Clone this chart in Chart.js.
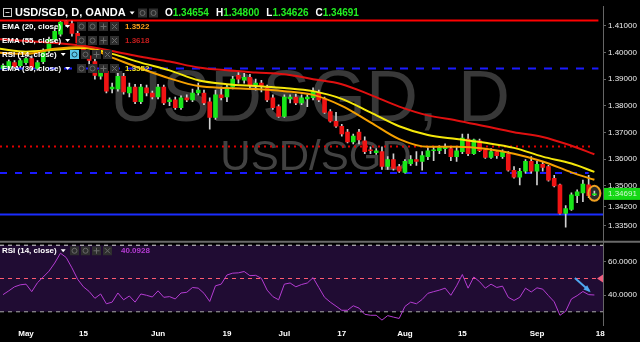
<!DOCTYPE html>
<html>
<head>
<meta charset="utf-8">
<script src="https://cdn.jsdelivr.net/npm/chart.js@4.4.1/dist/chart.umd.min.js"></script>
<style>
  html, body { margin: 0; padding: 0; background: #000; }
  #wrap { width: 640px; height: 342px; }
</style>
</head>
<body>
<div id="wrap"><canvas id="chart" width="640" height="342"></canvas></div>
<script>
// one candle per trading day, index 0 = 1 May 2017, first candle is index -4
const firstIdx = -4;

const opens = [1.3940,1.3944,1.3962,1.3951,
  1.3962,1.3977,1.3940,1.3966,1.4006,1.4047,1.4069,1.4120,1.4109,1.4072,
  1.4036,1.3988,1.3966,1.3911,1.3929,1.3863,1.3863,1.3911,1.3848,1.3870,
  1.3815,1.3867,1.3848,1.3833,1.3870,1.3815,1.3822,1.3793,1.3830,1.3822,
  1.3848,1.3848,1.3815,1.3756,1.3841,1.3833,1.3870,1.3914,1.3896,1.3907,
  1.3878,1.3885,1.3867,1.3830,1.3797,1.3760,1.3826,1.3833,1.3811,1.3826,
  1.3830,1.3848,1.3826,1.3778,1.3742,1.3723,1.3701,1.3664,1.3701,1.3668,
  1.3635,1.3624,1.3628,1.3572,1.3598,1.3572,1.3550,1.3583,1.3598,1.3591,
  1.3609,1.3631,1.3631,1.3639,1.3639,1.3609,1.3628,1.3675,1.3620,1.3668,
  1.3635,1.3606,1.3628,1.3609,1.3620,1.3558,1.3532,1.3554,1.3591,1.3554,
  1.3580,1.3572,1.3528,1.3503,1.3396,1.3411,1.3462,1.3473,1.3503,1.34654];

const highs = [1.3958,1.3973,1.3970,1.3977,
  1.3984,1.3988,1.3970,1.4014,1.4058,1.4091,1.4116,1.4120,1.4118,1.4083,
  1.4047,1.3999,1.3981,1.3944,1.3940,1.3885,1.3925,1.3922,1.3885,1.3881,
  1.3881,1.3878,1.3855,1.3881,1.3878,1.3830,1.3833,1.3837,1.3841,1.3863,
  1.3885,1.3859,1.3830,1.3859,1.3870,1.3881,1.3911,1.3925,1.3922,1.3918,
  1.3900,1.3896,1.3878,1.3841,1.3804,1.3841,1.3841,1.3844,1.3841,1.3841,
  1.3867,1.3859,1.3833,1.3786,1.3775,1.3730,1.3712,1.3694,1.3712,1.3683,
  1.3646,1.3639,1.3646,1.3609,1.3620,1.3580,1.3598,1.3613,1.3628,1.3628,
  1.3642,1.3646,1.3650,1.3657,1.3646,1.3646,1.3694,1.3694,1.3675,1.3675,
  1.3639,1.3639,1.3631,1.3635,1.3628,1.3572,1.3565,1.3598,1.3609,1.3591,
  1.3591,1.3576,1.3539,1.3506,1.3425,1.3473,1.3484,1.3521,1.3539,1.34800];

const lows = [1.3933,1.3936,1.3940,1.3944,
  1.3955,1.3936,1.3933,1.3958,1.3999,1.4039,1.4061,1.4098,1.4061,1.4028,
  1.3999,1.3958,1.3900,1.3900,1.3848,1.3848,1.3855,1.3844,1.3833,1.3808,
  1.3808,1.3837,1.3826,1.3826,1.3804,1.3800,1.3786,1.3786,1.3815,1.3815,
  1.3841,1.3804,1.3712,1.3749,1.3822,1.3815,1.3863,1.3885,1.3885,1.3863,
  1.3859,1.3852,1.3815,1.3786,1.3756,1.3756,1.3811,1.3804,1.3804,1.3797,
  1.3822,1.3815,1.3771,1.3738,1.3719,1.3686,1.3661,1.3657,1.3657,1.3620,
  1.3620,1.3617,1.3561,1.3561,1.3558,1.3550,1.3547,1.3576,1.3576,1.3558,
  1.3598,1.3594,1.3620,1.3620,1.3594,1.3591,1.3620,1.3613,1.3617,1.3628,
  1.3602,1.3602,1.3602,1.3602,1.3554,1.3528,1.3503,1.3547,1.3547,1.3503,
  1.3554,1.3517,1.3495,1.3393,1.3344,1.3407,1.3436,1.3440,1.3455,1.34626];

const closes = [1.3951,1.3966,1.3947,1.3970,
  1.3977,1.3944,1.3962,1.4006,1.4050,1.4080,1.4113,1.4106,1.4072,1.4036,
  1.4010,1.3970,1.3914,1.3933,1.3855,1.3870,1.3911,1.3852,1.3870,1.3815,
  1.3870,1.3848,1.3833,1.3870,1.3811,1.3822,1.3793,1.3830,1.3822,1.3848,
  1.3859,1.3811,1.3756,1.3841,1.3830,1.3870,1.3900,1.3900,1.3907,1.3878,
  1.3885,1.3874,1.3822,1.3793,1.3760,1.3833,1.3833,1.3811,1.3830,1.3833,
  1.3852,1.3822,1.3775,1.3742,1.3723,1.3694,1.3664,1.3686,1.3672,1.3628,
  1.3631,1.3631,1.3572,1.3598,1.3565,1.3554,1.3591,1.3598,1.3591,1.3613,
  1.3631,1.3635,1.3642,1.3646,1.3609,1.3631,1.3679,1.3620,1.3672,1.3631,
  1.3606,1.3628,1.3613,1.3628,1.3558,1.3532,1.3554,1.3591,1.3554,1.3580,
  1.3569,1.3521,1.3499,1.3396,1.3414,1.3466,1.3477,1.3506,1.3462,1.34691];

// EMA readings taken at these candle indexes
const emaIdx = [-4.6, 0, 5, 10, 15, 20, 25, 30, 35, 40, 45, 50, 55, 60, 65, 70, 75, 80, 85, 90, 95, 99];
const ema20 = [1.3999,1.3995,1.4014,1.4021,1.3981,1.3940,1.3903,1.3874,1.3867,1.3863,1.3855,
  1.3841,1.3800,1.3738,1.3675,1.3646,1.3646,1.3639,1.3620,1.3591,1.3550,1.3522];
const ema30 = [1.4014,1.4003,1.4010,1.4017,1.3995,1.3962,1.3933,1.3896,1.3881,1.3874,1.3867,
  1.3855,1.3826,1.3775,1.3723,1.3690,1.3675,1.3661,1.3642,1.3609,1.3583,1.3552];
const ema55 = [1.4050,1.4043,1.4036,1.4025,1.4006,1.3984,1.3966,1.3944,1.3933,1.3925,1.3918,
  1.3900,1.3881,1.3841,1.3797,1.3764,1.3745,1.3723,1.3701,1.3683,1.3650,1.3618];

const rsi = [40.3,42.6,45.0,46.2,
  46.6,42.1,47.5,50.9,54.4,59.3,65.2,62.6,56.4,49.5,
  45.0,42.2,38.1,40.7,34.8,35.8,41.3,37.2,39.5,35.8,
  40.7,39.9,38.9,42.6,38.7,39.1,37.7,41.3,41.7,44.6,
  44.2,41.1,36.2,45.6,46.6,52.1,53.2,53.4,54.2,51.7,
  51.9,50.1,43.0,39.1,37.2,46.6,47.3,45.0,46.4,47.3,
  50.5,44.6,38.7,35.8,33.4,30.9,30.9,33.6,32.2,28.5,
  27.9,27.9,25.0,27.7,26.8,26.0,33.2,35.8,34.8,37.4,
  41.1,42.1,43.0,44.2,39.9,45.6,52.4,44.2,50.9,48.1,
  44.2,46.6,44.6,45.4,38.7,36.8,38.7,44.2,41.9,44.4,
  43.6,39.7,36.0,27.9,30.3,37.7,39.7,42.2,40.3,40.0928];

// drawn horizontal levels: value, last candle index reached
const levelValues = [1.4120, 1.3940, 1.3647, 1.3548, 1.3392];
const levelEnds = [99.7, 99.7, 98.3, 98.0, 100.6];
const rsiBands = [70, 50, 30];

const priceTicks = [1.41, 1.40, 1.39, 1.38, 1.37, 1.36, 1.35, 1.342, 1.335];
const rsiTicks = [60, 40];
const dateTickIdx = [0, 10, 23, 35, 45, 55, 66, 76, 89, 100];
const dateLabels = ['May', '15', 'Jun', '19', 'Jul', '17', 'Aug', '15', 'Sep', '18'];

const xMin = -4.53, xMax = 100.5;
const FONT = '"Liberation Sans", Arial, sans-serif';
Chart.defaults.font.family = FONT;

const UP = '#19e619', DOWN = '#f01414';

const bodies = opens.map((o, i) => ({ x: firstIdx + i, y: [o, closes[i]] }));
const wicks = lows.map((l, i) => ({ x: firstIdx + i, y: [l, highs[i]] }));
const bodyColors = opens.map((o, i) => closes[i] >= o ? UP : DOWN);
const emaPts = arr => arr.map((v, i) => ({ x: emaIdx[i], y: v }));
const level = (v, end) => [{ x: xMin, y: v }, { x: end, y: v }];

function caret(ctx, x, y) {
    ctx.beginPath();
    ctx.moveTo(x, y - 1.5);
    ctx.lineTo(x + 5, y - 1.5);
    ctx.lineTo(x + 2.5, y + 1.5);
    ctx.closePath();
    ctx.fill();
}

function icons(ctx, x, y, n, hi) {
    for (let i = 0; i < n; i++) {
        const bx = x + i * 11;
        ctx.fillStyle = (i === 0 && hi) ? hi : '#2e2e2e';
        ctx.fillRect(bx, y - 4.5, 9, 9);
        ctx.strokeStyle = (i === 0 && hi) ? '#1a4a5a' : '#6a6a6a';
        ctx.lineWidth = 1;
        ctx.beginPath();
        if (i < 2) {
            ctx.arc(bx + 4.5, y, 2.5, 0, Math.PI * 2);
        } else if (i === 2) {
            ctx.moveTo(bx + 1.5, y); ctx.lineTo(bx + 7.5, y);
            ctx.moveTo(bx + 4.5, y - 3); ctx.lineTo(bx + 4.5, y + 3);
        } else {
            ctx.moveTo(bx + 2, y - 2.5); ctx.lineTo(bx + 7, y + 2.5);
            ctx.moveTo(bx + 7, y - 2.5); ctx.lineTo(bx + 2, y + 2.5);
        }
        ctx.stroke();
    }
}

function legendRow(ctx, y, label, iconX, nIcons, value, color, hi) {
    ctx.font = 'bold 8px ' + FONT;
    ctx.textAlign = 'left';
    ctx.textBaseline = 'middle';
    ctx.fillStyle = '#ffffff';
    ctx.fillText(label, 2, y);
    const w = ctx.measureText(label).width;
    caret(ctx, 2 + w + 4, y);
    icons(ctx, iconX, y, nIcons, hi);
    if (value) {
        ctx.fillStyle = color;
        ctx.font = 'bold 8px ' + FONT;
        ctx.fillText(value, 125, y);
    }
}

const overlay = {
    id: 'overlay',
    beforeDatasetsDraw(chart) {
        const ctx = chart.ctx;
        const xs = chart.scales.x, ys = chart.scales.y;
        ctx.save();
        // watermark
        ctx.textAlign = 'center';
        ctx.textBaseline = 'alphabetic';
        ctx.fillStyle = '#383838';
        ctx.font = '72px ' + FONT;
        ctx.fillText('USDSGD, D', 310, 121);
        ctx.fillStyle = '#424242';
        ctx.font = '42px ' + FONT;
        ctx.fillText('USD/SGD', 316, 170);
        // marker behind the last candle
        const n = closes.length - 1;
        const cx = xs.getPixelForValue(firstIdx + n);
        const cy = ys.getPixelForValue((highs[n] + lows[n]) / 2);
        ctx.beginPath();
        ctx.ellipse(cx, cy, 6, 7.5, 0, 0, Math.PI * 2);
        ctx.fillStyle = '#2a2a2a';
        ctx.fill();
        ctx.restore();
    },
    afterDraw(chart) {
        const ctx = chart.ctx;
        const xs = chart.scales.x, ys = chart.scales.y, yr = chart.scales.yr;
        const n = closes.length - 1;
        ctx.save();

        // pane separator
        ctx.strokeStyle = '#6a6a6a';
        ctx.lineWidth = 2;
        ctx.beginPath();
        ctx.moveTo(0, yr.top);
        ctx.lineTo(640, yr.top);
        ctx.stroke();

        // circle round the last candle
        const cx = xs.getPixelForValue(firstIdx + n);
        const cy = ys.getPixelForValue((highs[n] + lows[n]) / 2);
        ctx.beginPath();
        ctx.ellipse(cx, cy, 6, 7.5, 0, 0, Math.PI * 2);
        ctx.strokeStyle = '#f0a020';
        ctx.lineWidth = 2;
        ctx.stroke();

        // last price tag
        const py = ys.getPixelForValue(closes[n]);
        ctx.fillStyle = '#16d816';
        ctx.fillRect(ys.left + 1, py - 6, 40, 12);
        ctx.fillStyle = '#d4f8d4';
        ctx.font = '8px ' + FONT;
        ctx.textAlign = 'left';
        ctx.textBaseline = 'middle';
        ctx.fillText(closes[n].toFixed(5), ys.left + 5, py);

        // RSI arrow
        const ax1 = xs.getPixelForValue(95.6), ay1 = yr.getPixelForValue(50.3);
        const ax2 = xs.getPixelForValue(98.1), ay2 = yr.getPixelForValue(42.6);
        ctx.strokeStyle = '#4fa8f0';
        ctx.fillStyle = '#4fa8f0';
        ctx.lineWidth = 2;
        ctx.beginPath();
        ctx.moveTo(ax1, ay1);
        ctx.lineTo(ax2, ay2);
        ctx.stroke();
        const ang = Math.atan2(ay2 - ay1, ax2 - ax1);
        ctx.beginPath();
        ctx.moveTo(ax2 + 2 * Math.cos(ang), ay2 + 2 * Math.sin(ang));
        ctx.lineTo(ax2 - 6 * Math.cos(ang - 0.5), ay2 - 6 * Math.sin(ang - 0.5));
        ctx.lineTo(ax2 - 6 * Math.cos(ang + 0.5), ay2 - 6 * Math.sin(ang + 0.5));
        ctx.closePath();
        ctx.fill();

        // 50 level marker on the RSI axis
        const my = yr.getPixelForValue(50);
        ctx.fillStyle = '#f06080';
        ctx.beginPath();
        ctx.moveTo(yr.left - 6, my);
        ctx.lineTo(yr.left, my - 4);
        ctx.lineTo(yr.left, my + 4);
        ctx.closePath();
        ctx.fill();

        // title row
        ctx.strokeStyle = '#cccccc';
        ctx.lineWidth = 1;
        ctx.strokeRect(3.5, 8.5, 8, 8);
        ctx.beginPath();
        ctx.moveTo(5.5, 12.5); ctx.lineTo(9.5, 12.5);
        ctx.stroke();
        ctx.font = 'bold 11px ' + FONT;
        ctx.fillStyle = '#ffffff';
        ctx.textBaseline = 'middle';
        const title = 'USD/SGD, D, OANDA';
        ctx.fillText(title, 15, 13);
        caret(ctx, 15 + ctx.measureText(title).width + 4, 13);
        icons(ctx, 138, 13, 2);
        let tx = 165;
        ctx.font = 'bold 10px ' + FONT;
        [['O', opens[n]], ['H', highs[n]], ['L', lows[n]], ['C', closes[n]]].forEach(([k, v]) => {
            ctx.fillStyle = '#ffffff';
            ctx.fillText(k, tx, 13);
            tx += ctx.measureText(k).width;
            ctx.fillStyle = '#22ee22';
            const s = v.toFixed(5);
            ctx.fillText(s, tx, 13);
            tx += ctx.measureText(s).width + 7;
        });

        legendRow(ctx, 26.5, 'EMA (20, close)', 77, 4, ema20[ema20.length - 1].toFixed(4), '#ff9e1b');
        legendRow(ctx, 40.5, 'EMA (55, close)', 77, 4, ema55[ema55.length - 1].toFixed(4), '#c41c1c');
        legendRow(ctx, 54.5, 'RSI (14, close)', 70, 4, null, null, '#5bc8e8');
        legendRow(ctx, 68.5, 'EMA (30, close)', 77, 4, ema30[ema30.length - 1].toFixed(4), '#f0e020');

        legendRow(ctx, yr.top + 9, 'RSI (14, close)', 70, 4, null);
        ctx.fillStyle = '#b43cd2';
        ctx.font = 'bold 8px ' + FONT;
        ctx.fillText(rsi[n].toFixed(4), 121, yr.top + 9);
        ctx.restore();
    }
};

const lineDs = (data, color, dash, order) => ({
    type: 'line', data, borderColor: color, borderWidth: 2, borderDash: dash,
    pointRadius: 0, fill: false, order, yAxisID: 'y'
});

new Chart(document.getElementById('chart'), {
    type: 'bar',
    data: {
        datasets: [
            // RSI band: 70 filled down to 30
            { type: 'line', data: level(rsiBands[0], xMax), yAxisID: 'yr', borderColor: '#dddddd', borderWidth: 1,
              borderDash: [4, 4], pointRadius: 0, fill: '+2', backgroundColor: '#200c33', order: 12 },
            { type: 'line', data: level(rsiBands[1], xMax), yAxisID: 'yr', borderColor: '#ff5a70', borderWidth: 1,
              borderDash: [4, 4], pointRadius: 0, fill: false, order: 11 },
            { type: 'line', data: level(rsiBands[2], xMax), yAxisID: 'yr', borderColor: '#aaaaaa', borderWidth: 1,
              borderDash: [4, 4], pointRadius: 0, fill: false, order: 11 },
            { type: 'line', data: rsi.map((v, i) => ({ x: firstIdx + i, y: v })), yAxisID: 'yr',
              borderColor: '#b43cd2', borderWidth: 1, pointRadius: 0, fill: false, order: 2 },
            // drawn levels
            lineDs(level(levelValues[0], levelEnds[0]), '#ff0000', [], 6),
            lineDs(level(levelValues[1], levelEnds[1]), '#1a1aff', [8, 8], 6),
            lineDs(level(levelValues[2], levelEnds[2]), '#e00000', [2, 4], 6),
            lineDs(level(levelValues[3], levelEnds[3]), '#1a1aff', [7, 8], 6),
            lineDs(level(levelValues[4], levelEnds[4]), '#1a2cff', [], 6),
            // candles
            { type: 'bar', data: wicks, yAxisID: 'y', backgroundColor: '#d0d0d0', barThickness: 1,
              grouped: false, order: 5 },
            { type: 'bar', data: bodies, yAxisID: 'y', backgroundColor: bodyColors, barThickness: 4,
              minBarLength: 1, grouped: false, order: 4 },
            // moving averages
            Object.assign(lineDs(emaPts(ema55), '#e01010', [], 1), { tension: 0.4, cubicInterpolationMode: 'monotone' }),
            Object.assign(lineDs(emaPts(ema20), '#f5a000', [], 1), { tension: 0.4, cubicInterpolationMode: 'monotone' }),
            Object.assign(lineDs(emaPts(ema30), '#f5e80a', [], 1), { tension: 0.4, cubicInterpolationMode: 'monotone' })
        ]
    },
    options: {
        responsive: false,
        devicePixelRatio: 1,
        animation: false,
        layout: { padding: 0 },
        plugins: { legend: { display: false }, tooltip: { enabled: false } },
        scales: {
            x: {
                type: 'linear', min: xMin, max: xMax, offset: false,
                grid: { display: false, drawTicks: false },
                border: { display: false },
                afterBuildTicks: s => { s.ticks = dateTickIdx.map(v => ({ value: v })); },
                afterFit: s => { s.height = 17; },
                ticks: {
                    color: '#ffffff', padding: 4, autoSkip: false, maxRotation: 0,
                    font: { size: 8, weight: 'bold' },
                    callback: v => dateLabels[dateTickIdx.indexOf(v)]
                }
            },
            y: {
                type: 'linear', position: 'right', stack: 'pane', stackWeight: 240,
                min: 1.32893, max: 1.41717,
                grid: { drawOnChartArea: false, drawTicks: true, tickLength: 3, color: '#666666' },
                border: { display: true, color: '#666666' },
                afterBuildTicks: s => { s.ticks = priceTicks.map(v => ({ value: v })); },
                afterFit: s => { s.width = 37; },
                ticks: { color: '#eeeeee', padding: 2, autoSkip: false, font: { size: 8 }, callback: v => v.toFixed(5) }
            },
            yr: {
                type: 'linear', position: 'right', stack: 'pane', stackWeight: 85,
                min: 22.06, max: 72.06,
                grid: { drawOnChartArea: false, drawTicks: true, tickLength: 3, color: '#666666' },
                border: { display: true, color: '#666666' },
                afterBuildTicks: s => { s.ticks = rsiTicks.map(v => ({ value: v })); },
                afterFit: s => { s.width = 37; },
                ticks: { color: '#eeeeee', padding: 2, autoSkip: false, font: { size: 8 }, callback: v => v.toFixed(4) }
            }
        }
    },
    plugins: [overlay]
});
</script>
</body>
</html>
